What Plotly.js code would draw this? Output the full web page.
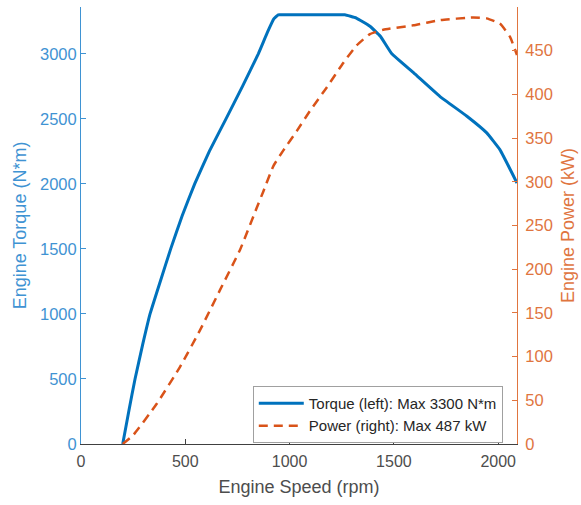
<!DOCTYPE html>
<html>
<head>
<meta charset="utf-8">
<script src="https://cdn.plot.ly/plotly-3.0.1.min.js"></script>
<style>html,body{margin:0;padding:0;background:#fff;}#chart{width:581px;height:505px;}</style>
</head>
<body>
<div id="chart"></div>
<script>
// Engine speed (rpm) and torque (N*m)
const torqueRpm = [200, 230, 259, 295, 331, 380, 430, 485, 545, 615, 695, 774, 850, 895, 925, 945, 960, 1250, 1265, 1320, 1385, 1435, 1490, 1595, 1720, 1850, 1945, 2008, 2090];
const torqueVal = [0, 260, 500, 760, 1000, 1250, 1500, 1755, 2000, 2250, 2500, 2750, 3000, 3170, 3270, 3300, 3300, 3300, 3300, 3275, 3212, 3135, 3000, 2853, 2673, 2520, 2392, 2263, 2007];

// Engine speed (rpm) and power (kW)
const powerRpm = [200, 250, 363, 474, 570, 666, 762, 842, 874, 922, 970, 1034, 1097, 1178, 1257, 1321, 1385, 1449, 1593, 1721, 1880, 1944, 2008, 2056, 2090];
const powerVal = [0, 10, 46, 88, 130, 176, 222, 270, 289, 318, 336, 358, 381, 408, 436, 456, 469, 474, 479, 485, 488, 487, 481, 466, 445];

const xTicks = [0, 500, 1000, 1500, 2000];
const yLeftTicks = [0, 500, 1000, 1500, 2000, 2500, 3000];
const yRightTicks = [0, 50, 100, 150, 200, 250, 300, 350, 400, 450];

const legendTorque = 'Torque (left): Max 3300 N*m';
const legendPower = 'Power (right): Max 487 kW';

const blue = '#0072BD';
const orange = '#D95319';
const blueAxis = '#3f93d3';
const orangeAxis = '#e0753f';
const font = 'Liberation Sans, Arial, sans-serif';

const traces = [
  {x: torqueRpm, y: torqueVal, type: 'scatter', mode: 'lines', name: legendTorque,
   line: {color: blue, width: 3, shape: 'spline', smoothing: 0.3}, yaxis: 'y'},
  {x: powerRpm, y: powerVal, type: 'scatter', mode: 'lines', name: legendPower,
   line: {color: orange, width: 2.5, dash: '9px,6px', shape: 'spline', smoothing: 0.4}, yaxis: 'y2'}
];

const layout = {
  width: 581, height: 505,
  margin: {l: 81, r: 64, t: 7, b: 61, pad: 0},
  paper_bgcolor: '#fff', plot_bgcolor: '#fff',
  font: {family: font},
  showlegend: true,
  xaxis: {
    range: [0, 2090], tickvals: xTicks, ticktext: xTicks.map(String),
    ticks: 'inside', ticklen: 5, tickcolor: '#404040', showline: true, linecolor: '#404040', linewidth: 1,
    showgrid: false, zeroline: false, tickfont: {size: 16, color: '#4d4d4d', family: font},
    ticklabelstandoff: 3,
    title: {text: 'Engine Speed (rpm)', font: {size: 18, color: '#4d4d4d', family: font}, standoff: 11},
    automargin: false
  },
  yaxis: {
    range: [0, 3360], tickvals: yLeftTicks, ticktext: yLeftTicks.map(String),
    ticks: 'inside', ticklen: 5, tickcolor: blueAxis, showline: true, linecolor: blueAxis, linewidth: 1,
    showgrid: false, zeroline: false, tickfont: {size: 16.5, color: blueAxis, family: font},
    title: {text: 'Engine Torque (N*m)', font: {size: 18, color: blueAxis, family: font}, standoff: 8},
    automargin: false
  },
  yaxis2: {
    range: [0, 500], tickvals: yRightTicks, ticktext: yRightTicks.map(String),
    overlaying: 'y', side: 'right', anchor: 'x',
    ticks: 'inside', ticklen: 5, tickcolor: orangeAxis, showline: true, linecolor: orangeAxis, linewidth: 1,
    showgrid: false, zeroline: false, tickfont: {size: 16.5, color: orangeAxis, family: font},
    ticklabelstandoff: 4,
    title: {text: 'Engine Power (kW)', font: {size: 18, color: orangeAxis, family: font}, standoff: 9},
    automargin: false
  },
  legend: {
    x: 0.394, y: 0.133, xanchor: 'left', yanchor: 'top',
    bgcolor: '#fff', bordercolor: '#a0a0a0', borderwidth: 1, itemwidth: 45,
    font: {size: 15, color: '#262626', family: font}, tracegroupgap: 0
  }
};

Plotly.newPlot('chart', traces, layout, {displayModeBar: false, staticPlot: true});
</script>
</body>
</html>
